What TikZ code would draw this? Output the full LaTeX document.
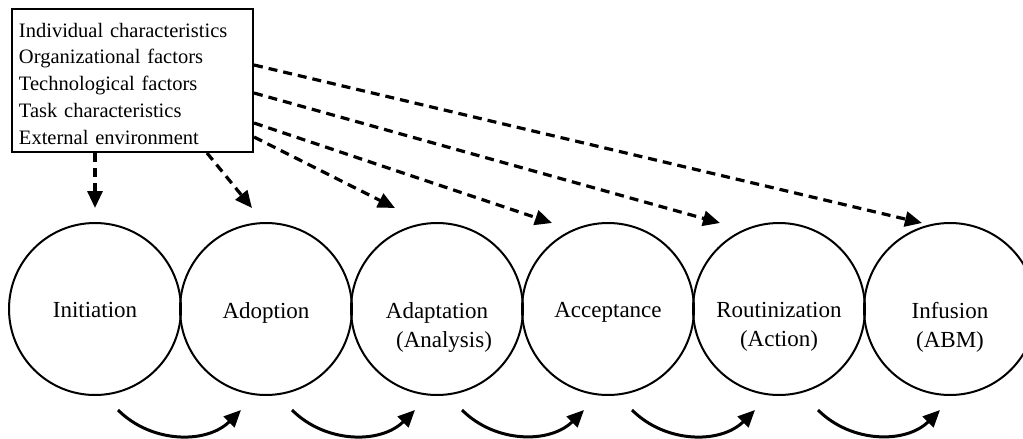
\documentclass[tikz,border=0pt]{standalone}
\usepackage{fontspec}
\setmainfont{Liberation Serif}
\usetikzlibrary{arrows.meta}
\begin{document}
\begin{tikzpicture}[x=1pt,y=-1pt,
  stage/.style={circle, draw, line width=2pt, minimum size=172pt, inner sep=0pt},
  lbl/.style={font=\fontsize{23}{29}\selectfont, align=center, inner sep=0pt, anchor=north},
  factors/.style={draw, line width=2pt, anchor=north west, align=left,
    text width=227pt, inner xsep=7pt, inner ysep=0pt,
    font=\fontsize{20.5}{27}\selectfont},
  infl/.style={line width=3.2pt, dash pattern=on 9pt off 6pt, -{Triangle[length=17pt,width=15pt]}},
  flow/.style={line width=3pt, -{Triangle[length=17pt,width=15pt]}}]
\useasboundingbox (0,0) rectangle (1023,439);

% stages
\node[stage] (c1) at (95,309) {};
\node[stage] (c2) at (266,309) {};
\node[stage] (c3) at (437,309) {};
\node[stage] (c4) at (608,309) {};
\node[stage] (c5) at (779,309) {};
\node[stage] (c6) at (950,309) {};

\node[lbl] (t1) at (95,302) {Initiation};
\node[lbl] (t2) at (266,302) {Adoption};
\node[lbl] (t3) at (437,302) {Adaptation\\\hspace*{14pt}(Analysis)};
\node[lbl] (t4) at (608,302) {Acceptance};
\node[lbl] (t5) at (779,302) {Routinization\\(Action)};
\node[lbl] (t6) at (950,302) {Infusion\\(ABM)};

% factors box
\node[factors] (f) at (11,8) {\rule{0pt}{28pt}Individual characteristics\\Organizational factors\\Technological factors\\Task characteristics\\External environment\rule[-7pt]{0pt}{7pt}};

% influence arrows
\draw[infl] ([shift={(84,0)}]f.south west) -- ([shift={(0,-101)}]c1.center);
\draw[infl] ([shift={(196,0)}]f.south west) -- ([shift={(-14,-101)}]c2.center);
\draw[infl] ([shift={(0,129)}]f.north east) -- ([shift={(-42,-101)}]c3.center);
\draw[infl] ([shift={(0,115)}]f.north east) -- ([shift={(-56,-86)}]c4.center);
\draw[infl] ([shift={(0,85)}]f.north east) -- ([shift={(-59,-86)}]c5.center);
\draw[infl] ([shift={(0,57)}]f.north east) -- ([shift={(-28,-86)}]c6.center);

% flow arrows
\draw[flow] ([shift={(23,101)}]c1.center) to[bend right=45] ([shift={(-25,101)}]c2.center);
\draw[flow] ([shift={(26,101)}]c2.center) to[bend right=45] ([shift={(-22,101)}]c3.center);
\draw[flow] ([shift={(25,101)}]c3.center) to[bend right=45] ([shift={(-24,101)}]c4.center);
\draw[flow] ([shift={(24,101)}]c4.center) to[bend right=45] ([shift={(-24,101)}]c5.center);
\draw[flow] ([shift={(39,101)}]c5.center) to[bend right=45] ([shift={(-10,101)}]c6.center);
\end{tikzpicture}
\end{document}
